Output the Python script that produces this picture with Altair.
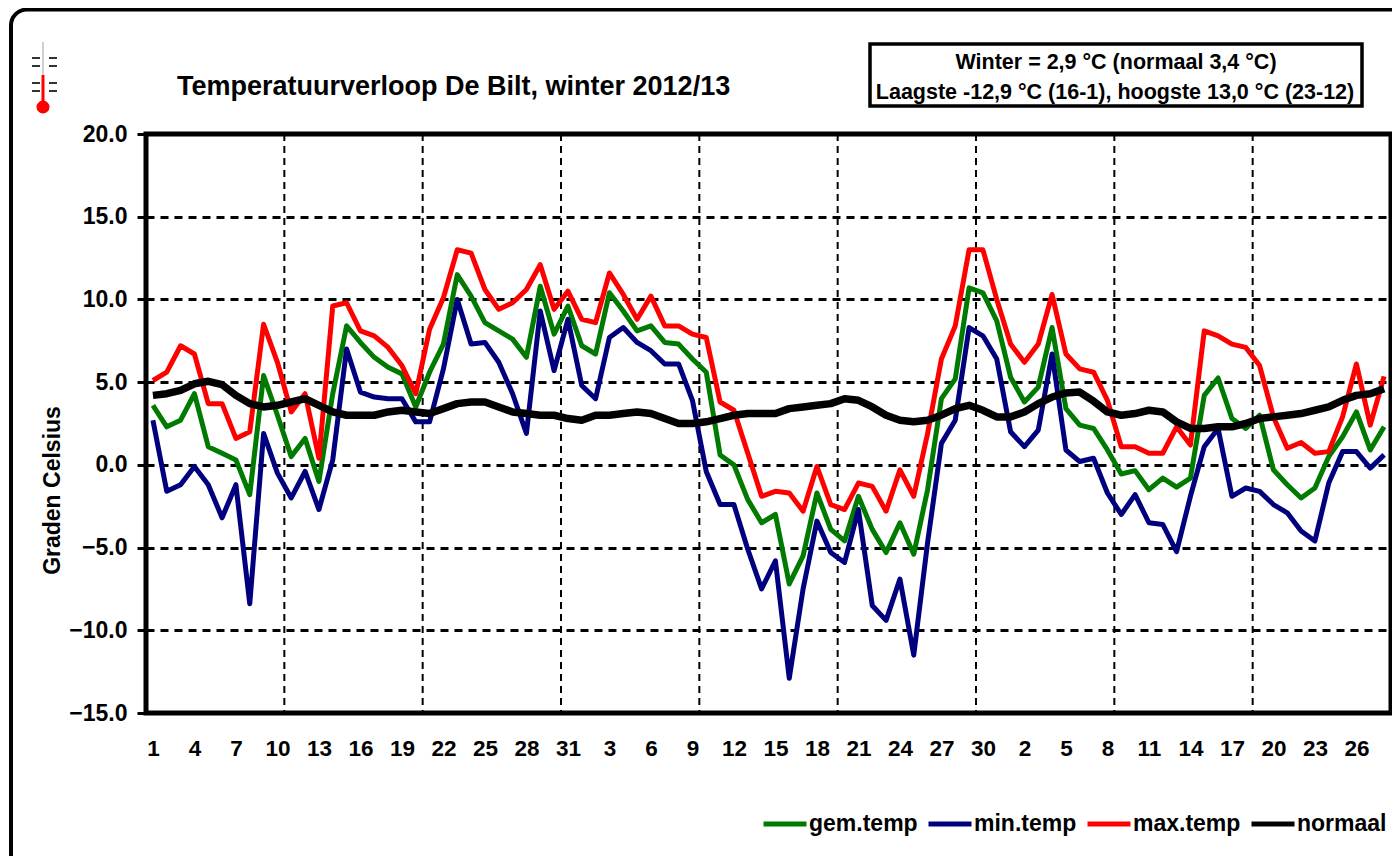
import altair as alt
import pandas as pd

gem_temp = [3.6,2.3,2.7,4.3,1.1,0.7,0.3,-1.8,5.4,3.0,0.5,1.6,-1.0,4.3,8.4,7.4,6.5,5.9,5.5,3.5,5.6,7.3,11.5,10.2,8.6,8.1,7.6,6.5,10.8,7.9,
            9.6,7.2,6.7,10.4,9.3,8.1,8.4,7.4,7.3,6.4,5.6,0.6,0.0,-2.1,-3.5,-3.0,-7.2,-5.5,-1.7,-3.9,-4.6,-1.9,-3.9,-5.3,-3.5,-5.4,-1.5,4.0,5.2,10.7,
            10.4,8.7,5.3,3.8,4.7,8.3,3.4,2.4,2.2,0.9,-0.55,-0.35,-1.5,-0.8,-1.35,-0.8,4.2,5.25,2.8,2.2,3.0,-0.3,-1.2,-2.0,-1.4,0.5,1.7,3.2,0.9,2.3]
min_temp = [2.7,-1.6,-1.2,-0.1,-1.2,-3.2,-1.2,-8.4,1.9,-0.5,-2.0,-0.4,-2.7,0.3,7.0,4.4,4.1,4.0,4.0,2.6,2.6,5.8,10.0,7.3,7.4,6.2,4.3,1.9,9.3,5.7,
            8.8,4.8,4.0,7.7,8.3,7.4,6.9,6.1,6.1,3.9,-0.4,-2.4,-2.4,-5.1,-7.5,-5.8,-12.9,-7.5,-3.4,-5.3,-5.9,-2.7,-8.5,-9.4,-6.9,-11.5,-4.7,1.3,2.7,8.3,
            7.8,6.4,2.0,1.1,2.1,6.7,0.9,0.2,0.4,-1.7,-3.0,-1.8,-3.5,-3.6,-5.25,-1.9,1.1,2.2,-1.9,-1.4,-1.6,-2.4,-2.9,-4.0,-4.6,-1.1,0.8,0.8,-0.2,0.6]
max_temp = [5.1,5.6,7.2,6.7,3.7,3.7,1.6,2.0,8.5,6.2,3.2,4.3,0.4,9.6,9.8,8.1,7.8,7.1,6.0,4.3,8.2,10.1,13.0,12.8,10.6,9.4,9.8,10.6,12.1,9.4,
            10.5,8.8,8.6,11.6,10.3,8.8,10.2,8.4,8.4,7.9,7.7,3.8,3.3,0.7,-1.9,-1.6,-1.7,-2.8,-0.1,-2.4,-2.7,-1.1,-1.3,-2.8,-0.3,-1.9,1.9,6.4,8.4,13.0,
            13.0,10.0,7.3,6.2,7.3,10.3,6.7,5.8,5.6,3.9,1.1,1.1,0.7,0.7,2.3,1.2,8.1,7.8,7.3,7.1,6.0,2.9,1.0,1.35,0.7,0.8,2.9,6.1,2.4,5.35]
normaal = [4.2,4.3,4.5,4.9,5.05,4.85,4.2,3.7,3.5,3.6,3.8,4.0,3.6,3.2,3.0,3.0,3.0,3.2,3.3,3.2,3.1,3.4,3.7,3.8,3.8,3.5,3.2,3.1,3.0,3.0,
           2.8,2.7,3.0,3.0,3.1,3.2,3.1,2.8,2.5,2.5,2.6,2.8,3.0,3.1,3.1,3.1,3.4,3.5,3.6,3.7,4.0,3.9,3.5,3.0,2.7,2.6,2.7,3.0,3.4,3.6,
           3.3,2.9,2.9,3.2,3.7,4.1,4.35,4.4,3.85,3.2,3.0,3.1,3.3,3.2,2.6,2.2,2.2,2.3,2.3,2.5,2.8,2.9,3.0,3.1,3.3,3.5,3.9,4.2,4.3,4.6]
tick_labels = [1,4,7,10,13,16,19,22,25,28,31,3,6,9,12,15,18,21,24,27,30,2,5,8,11,14,17,20,23,26]
series_names = ["gem.temp", "min.temp", "max.temp", "normaal"]
series_colors = ["#007a00", "#00007f", "#ff0000", "#000000"]
y_ticks = [20, 15, 10, 5, 0, -5, -10, -15]
x_grid = [10, 20, 30, 40, 50, 60, 70, 80]

FONT = "Liberation Sans"
PL, PT, PW, PH = 146, 134, 1245, 579  # plot box in page pixels

rows = []
for name, vals in zip(series_names, [gem_temp, min_temp, max_temp, normaal]):
    for i, v in enumerate(vals):
        rows.append({"dag": i + 0.5, "temp": v, "reeks": name})
df = pd.DataFrame(rows)

x_scale = alt.Scale(domain=[0, 90], nice=False, zero=False)
y_scale = alt.Scale(domain=[-15, 20], nice=False, zero=False)
label_expr = "[" + ",".join(str(t) for t in tick_labels) + "][floor(datum.value/3)]"

legend = alt.Legend(orient="none", legendX=761 - PL, legendY=800 - PT, direction="horizontal",
                    columns=4, gridAlign="none", title=None, symbolType="stroke", symbolStrokeWidth=5,
                    symbolSize=1849, columnPadding=0, labelOffset=0,
                    labelFont=FONT, labelFontSize=23, labelFontWeight="bold", labelColor="black")

x_enc = alt.X("dag:Q", scale=x_scale, title=None,
              axis=alt.Axis(values=[i * 3 + 0.5 for i in range(len(tick_labels))],
                            labelExpr=label_expr, grid=False, ticks=False, domain=False,
                            labelPadding=24, labelFont=FONT, labelFontSize=22.5, labelFontWeight="bold",
                            labelColor="black", labelAngle=0, labelOverlap=False, labelFlush=False))
y_enc = alt.Y("temp:Q", scale=y_scale, title="Graden Celsius",
              axis=alt.Axis(values=y_ticks, format=".1f", grid=True, gridColor="black", gridDash=[8, 6],
                            gridWidth=3, gridOpacity=1, tickColor="black", tickSize=9, tickWidth=3, domain=False,
                            labelPadding=10, labelFont=FONT, labelFontSize=23, labelFontWeight="bold",
                            labelColor="black", titleFont=FONT, titleFontSize=23, titleFontWeight="bold",
                            titleColor="black", titleX=-82, titleY=356))
color_enc = alt.Color("reeks:N", sort=series_names,
                      scale=alt.Scale(domain=series_names, range=series_colors), legend=legend)

lines = alt.Chart(df[df["reeks"] != "normaal"]).mark_line(strokeWidth=5, strokeJoin="round", clip=False).encode(
    x=x_enc, y=y_enc, color=color_enc, order="dag:Q")
black_line = alt.Chart(df[df["reeks"] == "normaal"]).mark_line(strokeWidth=7.5, strokeJoin="round", clip=False).encode(
    x=x_enc, y=y_enc, color=color_enc, order="dag:Q")

vgrid = alt.Chart(pd.DataFrame({"g": x_grid})).mark_rule(color="black", strokeWidth=2, strokeDash=[7, 5]).encode(
    x=alt.X("g:Q", scale=x_scale))


def px(x):
    return alt.value(x - PL)


def py(y):
    return alt.value(y - PT)


frame = alt.Chart(pd.DataFrame({"a": [0]})).mark_rect(
    filled=False, stroke="black", strokeWidth=4, cornerRadius=16).encode(
    x=px(11), x2=px(1500), y=py(9.5), y2=py(960))

box = alt.Chart(pd.DataFrame({"a": [0]})).mark_rect(
    filled=True, fill="white", stroke="black", strokeWidth=3.5).encode(
    x=px(870), x2=px(1362), y=py(44), y2=py(106))


def label(text, x, y, size, align="center", color="black"):
    return alt.Chart(pd.DataFrame({"t": [text]})).mark_text(
        font=FONT, fontSize=size, fontWeight="bold", align=align, baseline="middle", color=color).encode(
        text="t:N", x=px(x), y=py(y))


line1 = label("Winter = 2,9 °C (normaal 3,4 °C)", 1116, 63, 21.5)
line2 = label("Laagste -12,9 °C (16-1), hoogste 13,0 °C (23-12)", 1115, 93, 21.5)


def seg(x1, x2, y1, y2, color, w):
    return alt.Chart(pd.DataFrame({"a": [0]})).mark_rule(color=color, strokeWidth=w).encode(
        x=px(x1), x2=px(x2), y=py(y1), y2=py(y2))


thermo = [seg(43, 43, 42, 76, "#cfcfcf", 2), seg(43, 43, 75, 106, "#ff0000", 3)]
for ty in (58, 66, 83, 91):
    thermo += [seg(32, 40, ty, ty, "#333333", 2), seg(49, 57, ty, ty, "#333333", 2)]
bulb = alt.Chart(pd.DataFrame({"a": [0]})).mark_point(filled=True, color="#ff0000", size=170, opacity=1).encode(
    x=px(43), y=py(107))

chart = alt.layer(frame, vgrid, lines, black_line, box, line1, line2, *thermo, bulb).resolve_scale(
    x="shared", y="shared"
).properties(
    width=PW, height=PH,
    autosize=alt.AutoSizeParams(type="none", contains="content"),
    padding={"left": PL - 8, "top": PT - 8, "right": 1384 - (PL - 8) - PW, "bottom": 848 - (PT - 8) - PH},
    title=alt.TitleParams("Temperatuurverloop De Bilt, winter 2012/13", anchor="start", frame="group",
                          dx=31, offset=-93, font=FONT, fontSize=27, fontWeight="bold", color="black"),
).configure_view(stroke="black", strokeWidth=5, fill="white")

chart.save("out.html", embed_options={"renderer": "svg", "actions": False})
